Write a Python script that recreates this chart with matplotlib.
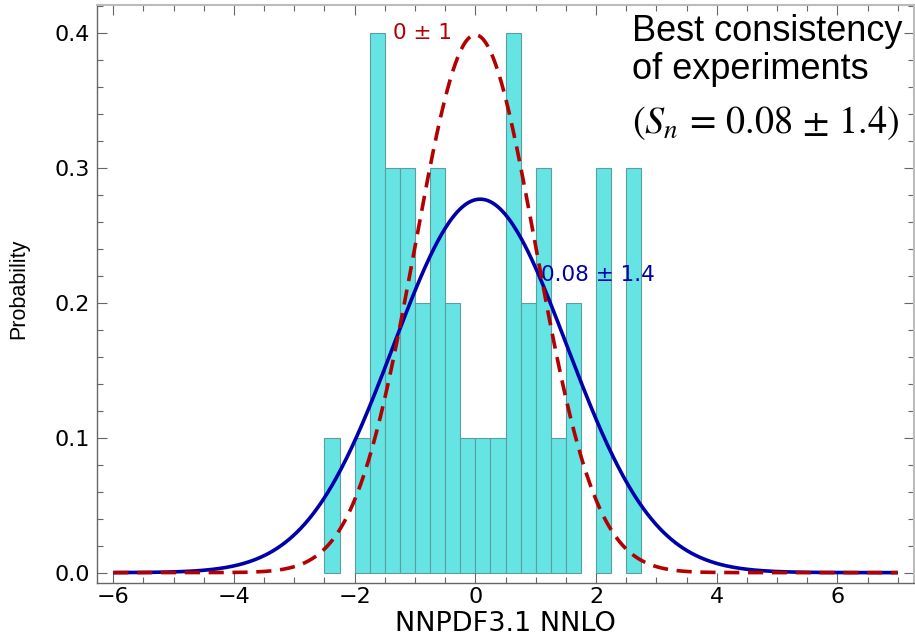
import numpy as np
import matplotlib
matplotlib.use('Agg')
import matplotlib.pyplot as plt
from matplotlib.ticker import MultipleLocator

plt.rcParams['font.family'] = ['DejaVu Sans']
plt.rcParams['mathtext.fontset'] = 'stix'

# histogram of pulls, bins of width 0.25 starting at -2.5
bin_start = -2.5
bin_width = 0.25
probs = [0.1, 0.0, 0.1, 0.4, 0.3, 0.3, 0.2, 0.3, 0.2, 0.1, 0.1, 0.1,
         0.4, 0.2, 0.3, 0.1, 0.2, 0.0, 0.3, 0.0, 0.3]

# gaussians: unit normal and the fitted one
mu_ref, sig_ref = 0.0, 1.0
mu_fit, sig_fit = 0.08, 1.44

fill_col = '#66E4E4'
edge_col = '#5C9EA0'
red = '#B30000'
blue = '#0000AA'


def gauss(x, mu, sig):
    return np.exp(-0.5 * ((x - mu) / sig) ** 2) / (sig * np.sqrt(2 * np.pi))


fig = plt.figure(figsize=(9.15, 6.38), dpi=100)
ax = fig.add_axes([0.106, 0.086, 0.893, 0.906])

lefts = [bin_start + i * bin_width for i in range(len(probs))]
for l, p in zip(lefts, probs):
    if p > 0:
        ax.bar(l, p, width=bin_width, align='edge', color=fill_col,
               edgecolor=edge_col, linewidth=0.8, zorder=1)

xs = np.linspace(-6, 7, 600)
ax.plot(xs, gauss(xs, mu_fit, sig_fit), color=blue, lw=2.6, zorder=3,
        solid_capstyle='butt')
ax.plot(xs, gauss(xs, mu_ref, sig_ref), color=red, lw=2.6, zorder=4,
        linestyle=(0, (4.2, 2.4)))

ax.text(-1.36, 0.40, '0 ± 1', color=red, fontsize=15.5, va='center', ha='left', zorder=2)
ax.text(1.09, 0.2205, '0.08 ± 1.4', color=blue, fontsize=15.5, va='center', ha='left', zorder=2)

ax.text(0.655, 0.985, 'Best consistency\nof experiments', transform=ax.transAxes,
        family=['Liberation Sans', 'DejaVu Sans'], fontsize=26, ha='left', va='top',
        linespacing=1.12)
ax.text(0.655, 0.828, r'$(S_n\,=\,0.08\,\pm\,1.4)$', transform=ax.transAxes,
        fontsize=27.5, ha='left', va='top')

ax.set_xlim(-6.27, 7.27)
ax.set_ylim(-0.0078, 0.421)
ax.xaxis.set_major_locator(MultipleLocator(2))
ax.xaxis.set_minor_locator(MultipleLocator(0.5))
ax.yaxis.set_major_locator(MultipleLocator(0.1))
ax.yaxis.set_minor_locator(MultipleLocator(0.02))
ax.yaxis.set_major_formatter(matplotlib.ticker.FormatStrFormatter('%.1f'))
ax.xaxis.set_major_formatter(matplotlib.ticker.FuncFormatter(
    lambda v, p: ('\u2212%d' % -v) if v < 0 else '%d' % v))

ax.tick_params(which='both', direction='in', top=True, right=True, colors='#666666',
               labelcolor='black', labelsize=16)
ax.tick_params(which='major', length=7, width=0.8)
ax.tick_params(which='minor', length=4, width=0.8)
ax.tick_params(axis='x', pad=3)
ax.tick_params(axis='y', pad=5)

for s in ['left', 'bottom']:
    ax.spines[s].set_color('#666666')
    ax.spines[s].set_linewidth(1.0)
for s in ['top', 'right']:
    ax.spines[s].set_color('#BBBBBB')
    ax.spines[s].set_linewidth(1.5)

ax.set_xlabel('NNPDF3.1 NNLO', fontsize=19.5, va='baseline')
ax.xaxis.set_label_coords(0.5, -0.0835)
ax.set_ylabel('Probability', fontsize=15.5,
              family=['Liberation Sans Narrow', 'Liberation Sans', 'DejaVu Sans'])
ax.yaxis.set_label_coords(-0.083, 0.51)

fig.savefig('out.png', dpi=100)
